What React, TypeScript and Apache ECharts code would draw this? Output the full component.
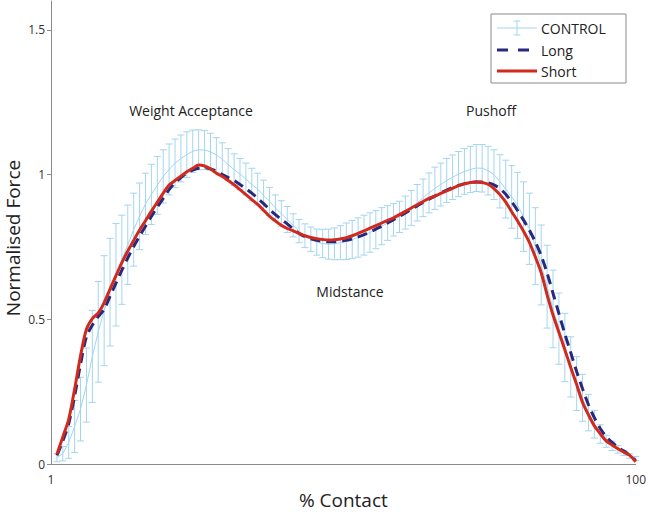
import React, { useEffect, useRef } from "react";
import * as echarts from "echarts";

// % contact positions (2..100)
const percentContact: number[] = Array.from({ length: 99 }, (_, i) => i + 2);

// CONTROL mean (x = 2..100)
const controlMean: number[] = [
  0.022, 0.036, 0.075, 0.13, 0.19, 0.273, 0.372, 0.457, 0.53, 0.594,
  0.654, 0.706, 0.758, 0.81, 0.856, 0.899, 0.932, 0.963, 0.994, 1.018,
  1.039, 1.056, 1.069, 1.081, 1.086, 1.085, 1.079, 1.068, 1.054, 1.035,
  1.017, 1.002, 0.985, 0.966, 0.95, 0.928, 0.908, 0.885, 0.865, 0.845,
  0.825, 0.805, 0.789, 0.777, 0.767, 0.762, 0.76, 0.761, 0.765, 0.77,
  0.776, 0.783, 0.791, 0.8, 0.81, 0.822, 0.833, 0.844, 0.854, 0.869,
  0.885, 0.903, 0.92, 0.937, 0.953, 0.966, 0.98, 0.991, 1.002, 1.011,
  1.018, 1.023, 1.022, 1.014, 1.0, 0.977, 0.95, 0.923, 0.894, 0.855,
  0.813, 0.753, 0.688, 0.613, 0.536, 0.468, 0.403, 0.336, 0.278, 0.229,
  0.178, 0.138, 0.104, 0.079, 0.063, 0.051, 0.039, 0.028, 0.019,
];

// CONTROL standard deviation (x = 2..100)
const controlSD: number[] = [
  0.014, 0.025, 0.055, 0.09, 0.11, 0.128, 0.159, 0.174, 0.19, 0.186,
  0.177, 0.154, 0.137, 0.126, 0.115, 0.106, 0.104, 0.1, 0.092, 0.088,
  0.084, 0.081, 0.079, 0.073, 0.069, 0.067, 0.064, 0.06, 0.056, 0.055,
  0.055, 0.054, 0.055, 0.056, 0.055, 0.053, 0.048, 0.045, 0.045, 0.045,
  0.04, 0.04, 0.041, 0.042, 0.045, 0.049, 0.052, 0.055, 0.059, 0.063,
  0.066, 0.068, 0.069, 0.068, 0.066, 0.064, 0.06, 0.056, 0.054, 0.057,
  0.06, 0.063, 0.065, 0.069, 0.073, 0.074, 0.076, 0.077, 0.078, 0.079,
  0.08, 0.081, 0.082, 0.084, 0.086, 0.092, 0.1, 0.108, 0.114, 0.12,
  0.123, 0.133, 0.138, 0.143, 0.134, 0.123, 0.118, 0.104, 0.093, 0.081,
  0.063, 0.048, 0.032, 0.021, 0.016, 0.013, 0.009, 0.008, 0.007,
];

// Long (x = 2..100)
const longValues: number[] = [
  0.03, 0.08, 0.14, 0.235, 0.345, 0.44, 0.48, 0.51, 0.535, 0.58,
  0.625, 0.67, 0.712, 0.752, 0.788, 0.822, 0.856, 0.888, 0.918, 0.948,
  0.972, 0.99, 1.005, 1.016, 1.022, 1.024, 1.02, 1.012, 1.0, 0.99,
  0.98, 0.966, 0.952, 0.936, 0.918, 0.9, 0.88, 0.862, 0.845, 0.83,
  0.812, 0.797, 0.786, 0.778, 0.773, 0.77, 0.768, 0.768, 0.77, 0.773,
  0.778, 0.785, 0.793, 0.802, 0.812, 0.822, 0.833, 0.844, 0.856, 0.868,
  0.88, 0.892, 0.904, 0.915, 0.926, 0.937, 0.947, 0.956, 0.963, 0.969,
  0.973, 0.975, 0.975, 0.972, 0.965, 0.952, 0.932, 0.906, 0.876, 0.843,
  0.808, 0.768, 0.72, 0.66, 0.59, 0.52, 0.45, 0.385, 0.32, 0.26,
  0.205, 0.16, 0.123, 0.095, 0.075, 0.058, 0.045, 0.03, 0.012,
];

// Short (x = 2..100)
const shortValues: number[] = [
  0.034, 0.094, 0.155, 0.259, 0.374, 0.466, 0.503, 0.522, 0.558, 0.605,
  0.651, 0.696, 0.736, 0.773, 0.809, 0.841, 0.874, 0.905, 0.936, 0.964,
  0.98, 0.995, 1.01, 1.022, 1.033, 1.03, 1.02, 1.005, 0.994, 0.98,
  0.965, 0.948, 0.931, 0.914, 0.897, 0.877, 0.856, 0.84, 0.825, 0.814,
  0.806, 0.797, 0.789, 0.783, 0.779, 0.776, 0.774, 0.775, 0.778, 0.782,
  0.789, 0.797, 0.806, 0.815, 0.824, 0.833, 0.842, 0.851, 0.862, 0.873,
  0.885, 0.896, 0.907, 0.918, 0.926, 0.935, 0.944, 0.953, 0.962, 0.968,
  0.973, 0.975, 0.973, 0.967, 0.952, 0.931, 0.905, 0.872, 0.84, 0.805,
  0.766, 0.716, 0.661, 0.585, 0.515, 0.455, 0.395, 0.334, 0.275, 0.213,
  0.17, 0.132, 0.105, 0.08, 0.066, 0.053, 0.041, 0.03, 0.008,
];

const yTicks: number[] = [0, 0.5, 1, 1.5];
const xTicks: number[] = [1, 100];
const legendNames: string[] = ["CONTROL", "Long", "Short"];
const phaseLabels: string[] = ["Weight Acceptance", "Midstance", "Pushoff"];
const axisTitles: string[] = ["% Contact", "Normalised Force"];

const FONT = "'Open Sans', 'Noto Sans', sans-serif";
const CONTROL_COLOR = "#a3d5ef";
const LONG_COLOR = "#27287e";
const SHORT_COLOR = "#d12a1d";
const AXIS_COLOR = "#8a8a8a";

export default function App() {
  const ref = useRef<HTMLDivElement>(null);

  useEffect(() => {
    if (!ref.current) return;
    const chart = echarts.init(ref.current, null, { renderer: "svg" });

    const errData = percentContact.map((x, i) => [x, controlMean[i], controlSD[i]]);
    const meanData = percentContact.map((x, i) => [x, controlMean[i]]);
    const longData = percentContact.map((x, i) => [x, longValues[i]]);
    const shortData = percentContact.map((x, i) => [x, shortValues[i]]);

    const textStyle = (text: string, size: number) => ({
      text,
      fontFamily: FONT,
      fontSize: size,
      fill: "#222",
      textAlign: "center",
      textVerticalAlign: "middle",
    });

    const option: any = {
      animation: false,
      backgroundColor: "#ffffff",
      grid: { left: 51, right: 11, top: 1, bottom: 49, containLabel: false },
      xAxis: {
        type: "value",
        min: 1,
        max: 100,
        name: axisTitles[0],
        nameLocation: "middle",
        nameGap: 20,
        nameTextStyle: { fontFamily: FONT, fontSize: 19, color: "#222" },
        axisLine: { show: true, lineStyle: { color: AXIS_COLOR, width: 1 } },
        axisTick: { show: false },
        splitLine: { show: false },
        axisLabel: {
          customValues: xTicks,
          margin: 9,
          fontFamily: FONT,
          fontSize: 12,
          color: "#333",
        },
      },
      yAxis: {
        type: "value",
        min: 0,
        max: 1.6,
        axisLine: { show: true, lineStyle: { color: AXIS_COLOR, width: 1 } },
        axisTick: {
          show: true,
          customValues: yTicks,
          length: 4,
          lineStyle: { color: AXIS_COLOR },
        },
        splitLine: { show: false },
        axisLabel: {
          customValues: yTicks,
          margin: 6,
          fontFamily: FONT,
          fontSize: 12,
          color: "#333",
        },
      },
      series: [
        {
          name: legendNames[0] + " SD",
          type: "custom",
          data: errData,
          encode: { x: 0, y: 1 },
          z: 1,
          renderItem: (params: any, api: any) => {
            const x = api.value(0);
            const m = api.value(1);
            const s = api.value(2);
            const top = api.coord([x, m + s]);
            const bot = api.coord([x, m - s]);
            const hw = 3.5;
            const style = { stroke: CONTROL_COLOR, lineWidth: 1 };
            return {
              type: "group",
              children: [
                { type: "line", shape: { x1: top[0], y1: top[1], x2: bot[0], y2: bot[1] }, style },
                { type: "line", shape: { x1: top[0] - hw, y1: top[1], x2: top[0] + hw, y2: top[1] }, style },
                { type: "line", shape: { x1: bot[0] - hw, y1: bot[1], x2: bot[0] + hw, y2: bot[1] }, style },
              ],
            };
          },
        },
        {
          name: legendNames[0],
          type: "line",
          data: meanData,
          showSymbol: false,
          z: 2,
          lineStyle: { color: CONTROL_COLOR, width: 1 },
        },
        {
          name: legendNames[1],
          type: "line",
          data: longData,
          showSymbol: false,
          smooth: 0.3,
          z: 3,
          lineStyle: { color: LONG_COLOR, width: 3, type: [10, 6] },
        },
        {
          name: legendNames[2],
          type: "line",
          data: shortData,
          showSymbol: false,
          smooth: 0.3,
          z: 4,
          lineStyle: { color: SHORT_COLOR, width: 3 },
        },
      ],
      graphic: [
        {
          type: "text",
          x: 13,
          y: 238,
          rotation: Math.PI / 2,
          style: textStyle(axisTitles[1], 19),
        },
        { type: "text", x: 191, y: 110, style: textStyle(phaseLabels[0], 14) },
        { type: "text", x: 350, y: 291, style: textStyle(phaseLabels[1], 14) },
        { type: "text", x: 491, y: 110, style: textStyle(phaseLabels[2], 14) },
        {
          type: "group",
          z: 100,
          children: [
            {
              type: "rect",
              shape: { x: 491, y: 14, width: 135, height: 69 },
              style: { fill: "#fff", stroke: "#8a8a8a", lineWidth: 1 },
            },
            // CONTROL sample
            { type: "line", shape: { x1: 497, y1: 28, x2: 537, y2: 28 }, style: { stroke: CONTROL_COLOR, lineWidth: 1 } },
            { type: "line", shape: { x1: 517, y1: 21, x2: 517, y2: 35 }, style: { stroke: CONTROL_COLOR, lineWidth: 1 } },
            { type: "line", shape: { x1: 513.5, y1: 21, x2: 520.5, y2: 21 }, style: { stroke: CONTROL_COLOR, lineWidth: 1 } },
            { type: "line", shape: { x1: 513.5, y1: 35, x2: 520.5, y2: 35 }, style: { stroke: CONTROL_COLOR, lineWidth: 1 } },
            {
              type: "text",
              x: 541,
              y: 28,
              style: { text: legendNames[0], fontFamily: FONT, fontSize: 14, fill: "#222", textVerticalAlign: "middle" },
            },
            // Long sample
            { type: "line", shape: { x1: 497, y1: 50, x2: 508, y2: 50 }, style: { stroke: LONG_COLOR, lineWidth: 3 } },
            { type: "line", shape: { x1: 518, y1: 50, x2: 529, y2: 50 }, style: { stroke: LONG_COLOR, lineWidth: 3 } },
            {
              type: "text",
              x: 541,
              y: 50,
              style: { text: legendNames[1], fontFamily: FONT, fontSize: 14, fill: "#222", textVerticalAlign: "middle" },
            },
            // Short sample
            { type: "line", shape: { x1: 497, y1: 71, x2: 537, y2: 71 }, style: { stroke: SHORT_COLOR, lineWidth: 3 } },
            {
              type: "text",
              x: 541,
              y: 71,
              style: { text: legendNames[2], fontFamily: FONT, fontSize: 14, fill: "#222", textVerticalAlign: "middle" },
            },
          ],
        },
      ],
    };

    chart.setOption(option);
    return () => chart.dispose();
  }, []);

  return (
    <div
      ref={ref}
      style={{ position: "fixed", left: 0, top: 0, width: 649, height: 514, background: "#fff" }}
    />
  );
}
